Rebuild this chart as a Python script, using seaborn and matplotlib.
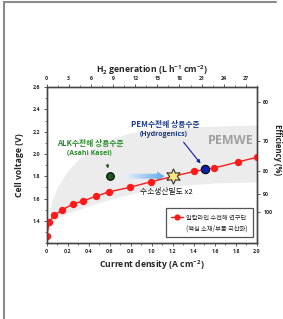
import numpy as np
import pandas as pd
import matplotlib
matplotlib.use("Agg")
import matplotlib.pyplot as plt
import seaborn as sns
from matplotlib.lines import Line2D
from matplotlib.patches import FancyArrow
from matplotlib.ticker import MultipleLocator

# ---------------- data ----------------
current_density = [0.0, 0.025, 0.07, 0.15, 0.25, 0.35, 0.47, 0.59, 0.79, 0.99, 1.40, 1.59, 1.815, 2.0]
cell_voltage = [1.263, 1.39, 1.45, 1.50, 1.55, 1.58, 1.62, 1.66, 1.70, 1.75, 1.843, 1.873, 1.927, 1.97]
series_label = "알칼라인 수전해 연구단"
series_label2 = "(핵심 소재/부품 국산화)"

alk_point = (0.60, 1.80)
pem_point = (1.51, 1.864)
star_point = (1.20, 1.80)

band_j = [0.0, 0.05, 0.1, 0.2, 0.3, 0.45, 0.6, 0.8, 1.0, 1.3, 1.6, 2.0]
band_upper = [1.32, 1.58, 1.70, 1.85, 1.95, 2.06, 2.13, 2.19, 2.22, 2.24, 2.25, 2.26]
band_lower = [1.30, 1.38, 1.42, 1.47, 1.50, 1.55, 1.59, 1.64, 1.69, 1.72, 1.74, 1.75]

volt_ticks = [1.4, 1.6, 1.8, 2.0, 2.2, 2.4, 2.6]
j_ticks = [0, 0.2, 0.4, 0.6, 0.8, 1.0, 1.2, 1.4, 1.6, 1.8, 2.0]
h2_ticks = [0, 3, 6, 9, 12, 15, 18, 21, 24, 27]
eff_ticks = [60, 70, 80, 90, 100]
H2_PER_J = 14.25     # top axis scale
THERMO_V = 1.48      # efficiency = 1.48 / V

# ---------------- style ----------------
sns.set_style("ticks")
plt.rcParams['font.family'] = ['Open Sans', 'Noto Sans CJK KR', 'DejaVu Sans']
plt.rcParams['mathtext.default'] = 'regular'
KR = ['Noto Sans CJK KR', 'DejaVu Sans']
spine_c = '#444444'

fig = plt.figure(figsize=(2.83, 3.19), dpi=100)
ax = fig.add_axes([0.165, 0.238, 0.743, 0.489])

# band
ax.fill_between(band_j, band_lower, band_upper, color='#ececec', lw=0, zorder=0)

df = pd.DataFrame({"j": current_density, "V": cell_voltage})
sns.lineplot(data=df, x="j", y="V", ax=ax, color='#ff1a1a', lw=1.0,
             marker='o', markersize=5.3, markeredgewidth=0, zorder=3, legend=False)

sns.scatterplot(x=[alk_point[0]], y=[alk_point[1]], ax=ax, color='#1c5e1c',
                edgecolor='black', linewidth=0.8, s=30, zorder=5)
sns.scatterplot(x=[pem_point[0]], y=[pem_point[1]], ax=ax, color='#0a20b0',
                edgecolor='black', linewidth=0.8, s=36, zorder=5)
ax.plot([star_point[0]], [star_point[1]], marker=(6, 1, 0), ms=11,
        color='#ffe680', mec='#333333', mew=0.8, zorder=6)

# gradient arrow
arr = FancyArrow(0.75, 1.80, 0.30, 0.0, width=0.045, head_width=0.085,
                 head_length=0.07, length_includes_head=False, lw=0,
                 facecolor='none', transform=ax.transData)
ax.add_patch(arr)
grad = np.linspace(0, 1, 100).reshape(1, -1)
cmap = matplotlib.colors.LinearSegmentedColormap.from_list('g', ['#e4f0fb', '#5aa6e6'])
im = ax.imshow(grad, extent=[0.75, 1.13, 1.75, 1.85], cmap=cmap, aspect='auto', zorder=2)
im.set_clip_path(arr)

# annotations
ax.text(0.41, 2.09, "ALK수전해 상용수준", family=KR, fontsize=5.6, weight='bold',
        color='#2b8a2b', ha='center', va='center')
ax.text(0.41, 2.005, "(Asahi Kasei)", fontsize=5.0, weight='bold',
        color='#2b8a2b', ha='center', va='center')
ax.annotate("", xy=(0.59, 1.845), xytext=(0.57, 1.93),
            arrowprops=dict(arrowstyle='-|>', color='#1c5e1c', lw=0.8,
                            mutation_scale=4))
ax.text(1.125, 2.26, "PEM수전해 상용수준", family=KR, fontsize=5.6, weight='bold',
        color='#1a3a8a', ha='center', va='center')
ax.text(1.11, 2.17, "(Hydrogenics)", fontsize=5.0, weight='bold',
        color='#1a3a8a', ha='center', va='center')
ax.annotate("", xy=(1.48, 1.895), xytext=(1.285, 2.125),
            arrowprops=dict(arrowstyle='-|>', color='#0a20b0', lw=0.8,
                            mutation_scale=5))
ax.text(1.75, 2.125, "PEMWE", fontsize=9, weight='bold', color='#a0a0a0',
        ha='center', va='center')
ax.text(1.14, 1.66, "수소생산밀도 x2", family=KR, fontsize=5.6, color='#111111',
        ha='center', va='center')

# axes
ax.set_xlim(0, 2.0)
ax.set_ylim(1.2, 2.6)
ax.set_xticks(j_ticks)
ax.set_xticklabels(["0"] + [f"{t:.1f}" for t in j_ticks[1:]])
ax.set_yticks(volt_ticks)
ax.set_yticklabels([f"{t:.1f}" for t in volt_ticks])
ax.xaxis.set_minor_locator(MultipleLocator(0.1))
ax.yaxis.set_minor_locator(MultipleLocator(0.1))
ax.set_xlabel("Current density (A cm$^{-2}$)", fontsize=6.2, weight='bold', labelpad=3)
ax.set_ylabel("Cell voltage (V)", fontsize=6.2, weight='bold', labelpad=6)

ax.tick_params(which='major', length=2.5, width=0.6, labelsize=3.8, color=spine_c, pad=2)
ax.tick_params(which='minor', length=1.5, width=0.5, color=spine_c)
for lab in ax.get_xticklabels() + ax.get_yticklabels():
    lab.set_fontweight('bold')

# top axis
axt = ax.twiny()
axt.set_xlim(0, 2.0)
axt.set_xticks([h / H2_PER_J for h in h2_ticks])
axt.set_xticklabels([str(h) for h in h2_ticks])
axt.set_xticks([(h + 1.5) / H2_PER_J for h in h2_ticks], minor=True)
axt.set_xlabel(r"H$_2$ generation (L h$^{-1}$ cm$^{-2}$)", fontsize=6.2, weight='bold', labelpad=2)

# right axis
axr = ax.twinx()
axr.set_ylim(1.2, 2.6)
axr.set_yticks([THERMO_V * 100 / e for e in eff_ticks])
axr.set_yticklabels([str(e) for e in eff_ticks])

for a in [axt, axr]:
    a.tick_params(which='major', length=2.5, width=0.6, labelsize=3.8, color=spine_c, pad=2)
    a.tick_params(which='minor', length=1.5, width=0.5, color=spine_c)
    for lab in a.get_xticklabels() + a.get_yticklabels():
        lab.set_fontweight('bold')

for a in [ax, axt, axr]:
    for s in a.spines.values():
        s.set_color(spine_c)
        s.set_linewidth(0.9)
        s.set_visible(True)

fig.text(0.998, 0.53, "Efficiency (%)", rotation=270, fontsize=5.6, weight='bold',
         ha='right', va='center', color='#222222')

# legend
handles = [Line2D([], [], color='#ff1a1a', lw=1.0, marker='o', ms=4.5, mew=0),
           Line2D([], [], alpha=0)]
leg = ax.legend(handles, [series_label, series_label2], loc='lower right',
                bbox_to_anchor=(0.981, 0.038), borderaxespad=0, fancybox=False,
                edgecolor='#555555', framealpha=1, prop={'family': KR, 'size': 4.5},
                handlelength=2.0, handletextpad=0.5, labelspacing=0.45,
                borderpad=0.8)
leg.get_frame().set_linewidth(0.9)

# outer frame (photo border)
fig.add_artist(Line2D([0.014, 0.014], [0.0, 0.994], transform=fig.transFigure,
                      color='#8a8a8a', lw=1.5))
fig.add_artist(Line2D([0.014, 0.975], [0.994, 0.994], transform=fig.transFigure,
                      color='#8a8a8a', lw=1.5))

fig.savefig("out.png", dpi=100)
